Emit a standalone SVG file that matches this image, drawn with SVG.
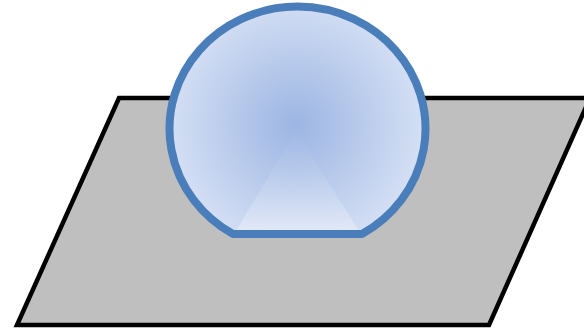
<svg xmlns="http://www.w3.org/2000/svg" width="584" height="330" viewBox="0 0 584 330">
<defs>
<radialGradient id="rg" cx="296" cy="125" r="130" gradientUnits="userSpaceOnUse">
<stop offset="0" stop-color="#9CB5E3"/>
<stop offset="1" stop-color="#D5E0F4"/>
</radialGradient>
<linearGradient id="tg" x1="0" y1="130" x2="0" y2="234" gradientUnits="userSpaceOnUse">
<stop offset="0" stop-color="#A5BCE5" stop-opacity="0.2"/>
<stop offset="1" stop-color="#E4EBF8"/>
</linearGradient>
<style>
.plane{fill:#BFBFBF;stroke:#000;stroke-width:4.5;stroke-linejoin:miter}
.dome{stroke:#4A7EBB;stroke-width:8;stroke-linejoin:bevel}
</style>
</defs>
<g id="plane">
<polygon class="plane" points="119,98 590,98 489,325 17,325"/>
</g>
<g id="dome">
<path d="M233,234 A128,122 0 1 1 362,234 Z" fill="url(#rg)" stroke="none"/>
<polygon points="296,131 236,231 359,231" fill="url(#tg)"/>
<path class="dome" d="M233,234 A128,122 0 1 1 362,234 Z" fill="none"/>
</g>
</svg>
